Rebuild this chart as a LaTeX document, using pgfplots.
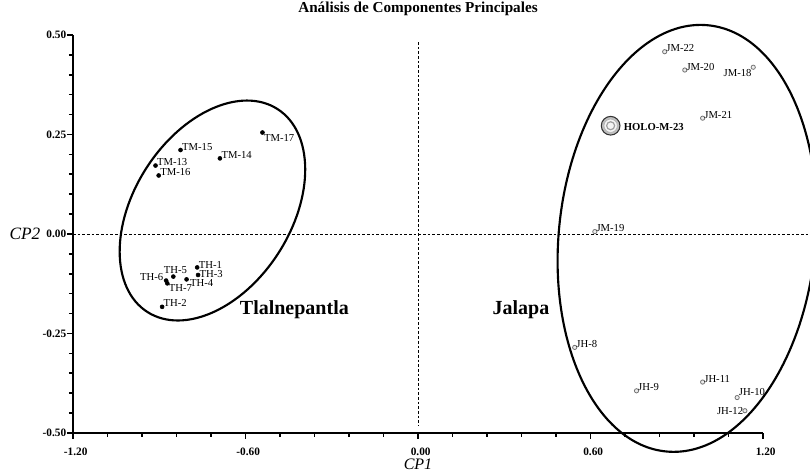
\documentclass[border=0pt]{standalone}
\usepackage{pgfplots}
\pgfplotsset{compat=1.18}
\usepackage{fontspec}
\setmainfont{Liberation Serif}

\pgfplotsset{
  lbl/.style={nodes near coords={\pgfplotspointmeta}, point meta=explicit symbolic,
    nodes near coords style={font=\fontsize{8}{9}\selectfont, anchor=#1, inner sep=1pt, text=black}},
  tdot/.style={only marks, mark=*, mark size=1.5pt, black, lbl=#1},
  jdot/.style={only marks, mark=*, mark size=1.6pt, mark options={fill=gray!15, draw=black!55, line width=0.6pt}, lbl=#1},
}

\begin{document}
\begin{tikzpicture}
\begin{axis}[
  name=ax,
  scale only axis,
  width=517.5pt, height=298.5pt,
  xmin=-1.2, xmax=1.2, ymin=-0.5, ymax=0.5,
  clip=false,
  axis x line=bottom, axis y line=left,
  axis line style={-, line width=2pt},
  tick align=outside,
  xtick={-1.2,-0.6,0,0.6,1.2},
  xticklabels={-1.20,-0.60,0.00,0.60,1.20},
  ytick={-0.5,-0.25,0,0.25,0.5},
  yticklabels={-0.50,-0.25,0.00,0.25,0.50},
  minor x tick num=4, minor y tick num=4,
  major tick length=4.5pt, minor tick length=3pt,
  every tick/.style={black, line width=1.2pt},
  tick label style={font=\bfseries\fontsize{8.5}{9}\selectfont},
  xticklabel style={xshift=2pt},
  xticklabel shift=3pt,
  yticklabel shift=-3pt,
  title={Análisis de Componentes Principales},
  title style={font=\bfseries\fontsize{11.4}{13}\selectfont, at={(axis description cs:0.5,1)}, anchor=base, yshift=10.5pt},
  xlabel={CP1},
  xlabel style={font=\itshape\fontsize{12}{14}\selectfont, at={(axis description cs:0.5,0)}, anchor=center, yshift=-23.8pt},
  ylabel={CP2},
  ylabel style={font=\itshape\fontsize{13}{15}\selectfont, rotate=-90, at={(axis description cs:0,0.5)}, anchor=center, xshift=-36pt},
]
% reference lines
\addplot[black, line width=0.6pt, dash pattern=on 2pt off 1.5pt] coordinates {(0,0.482) (0,-0.48)};
\addplot[black, line width=0.6pt, dash pattern=on 2pt off 1.5pt] coordinates {(-1.2,0) (1.37,0)};

% Tlalnepantla
\addplot[tdot={base west}] coordinates {
  (-0.826,0.211) [TM-15]
  (-0.689,0.190) [TM-14]
  (-0.913,0.172) [TM-13]
  (-0.902,0.147) [TM-16]
  (-0.890,-0.183) [TH-2]
};
\addplot[tdot={north west}] coordinates {
  (-0.541,0.255) [TM-17]
  (-0.872,-0.124) [TH-7]
};
\addplot[tdot={north west}, nodes near coords style={xshift=1.5pt, yshift=1pt}] coordinates {
  (-0.805,-0.114) [TH-4]
};
\addplot[tdot={base west}, nodes near coords style={yshift=-0.6pt}] coordinates {
  (-0.768,-0.084) [TH-1]
};
\addplot[tdot={base west}, nodes near coords style={yshift=-1.9pt}] coordinates {
  (-0.765,-0.103) [TH-3]
};
\addplot[tdot=south, nodes near coords style={xshift=1.5pt, yshift=1pt}] coordinates {(-0.851,-0.107) [TH-5]};
\addplot[tdot={base east}, nodes near coords style={xshift=-1pt}] coordinates {(-0.876,-0.117) [TH-6]};

% Jalapa
\addplot[jdot={base west}] coordinates {
  (0.858,0.458) [JM-22]
  (0.928,0.412) [JM-20]
  (0.990,0.291) [JM-21]
  (0.615,0.006) [JM-19]
  (0.545,-0.285) [JH-8]
  (0.760,-0.394) [JH-9]
  (0.990,-0.372) [JH-11]
};
\addplot[jdot={north east}] coordinates {(1.166,0.419) [JM-18]};
\addplot[jdot={south west}] coordinates {(1.110,-0.411) [JH-10]};
\addplot[jdot=east] coordinates {(1.137,-0.444) [JH-12]};

% Holotype
\addplot[only marks, mark=*, mark size=7pt, mark options={fill=gray!50, draw=black!80, line width=0.8pt},
  nodes near coords={\pgfplotspointmeta}, point meta=explicit symbolic,
  nodes near coords style={font=\bfseries\fontsize{8}{9}\selectfont, anchor=west, inner sep=1pt, xshift=8.5pt, yshift=-1pt, text=black}]
  coordinates {(0.670,0.272) [HOLO-M-23]};
\addplot[only marks, mark=*, mark size=5pt, mark options={fill=gray!8, draw=gray!60, line width=0.5pt}]
  coordinates {(0.670,0.272)};
\addplot[only marks, mark=o, mark size=3pt, mark options={draw=gray!75, line width=0.9pt}]
  coordinates {(0.670,0.272)};

\node[font=\bfseries\fontsize{15}{17}\selectfont, anchor=base] at (axis cs:-0.430,-0.202) {Tlalnepantla};
\node[font=\bfseries\fontsize{15}{17}\selectfont, anchor=base] at (axis cs:0.358,-0.202) {Jalapa};

\coordinate (c1) at (axis cs:-0.715,0.059);
\coordinate (c2) at (axis cs:0.936,-0.011);
\end{axis}
\draw[line width=1.6pt] (c1) ellipse [x radius=90.4pt, y radius=58.9pt, rotate=57.3];
\draw[line width=1.6pt] (c2) ellipse [x radius=160.6pt, y radius=96.3pt, rotate=84.35];
\pgfresetboundingbox
\path[use as bounding box] ([xshift=-54.75pt,yshift=-30pt]ax.south west) rectangle ([xshift=552.75pt,yshift=324.75pt]ax.south west);
\end{tikzpicture}
\end{document}
